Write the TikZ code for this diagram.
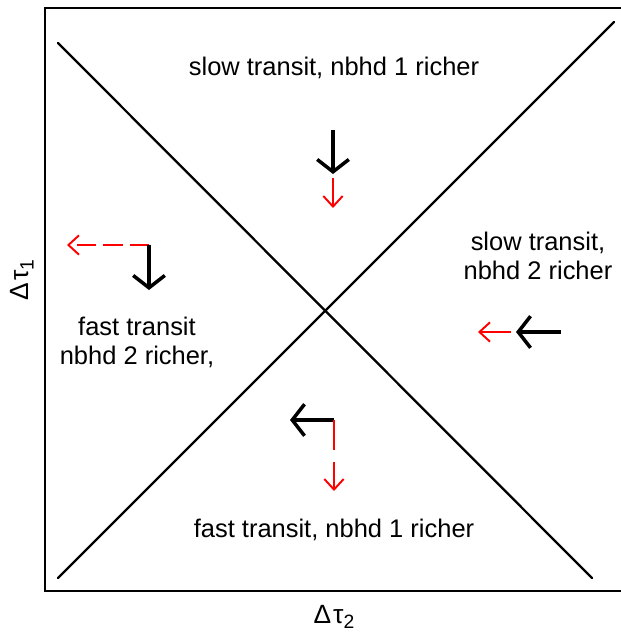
\documentclass[tikz,border=0pt]{standalone}
\usepackage{fontspec}
\setmainfont{Liberation Sans}
\usetikzlibrary{arrows.meta}

\begin{document}
\begin{tikzpicture}[x=0.02cm,y=-0.02cm]
\tikzset{
  regiontext/.style={align=center,font=\fontsize{14.5}{16.5}\selectfont,inner sep=0pt},
  axistext/.style={font=\fontsize{15}{17}\selectfont,inner sep=0pt},
  boundary/.style={line width=1.3pt,line cap=round},
  blackarrow/.style={-{Straight Barb[length=7pt,width=18pt,line width=2pt]},line width=2pt},
  redarrow/.style={-{Straight Barb[length=6pt,width=11pt,line width=1.1pt]},line width=1.1pt,red},
  redline/.style={line width=1.1pt,red}
}
\useasboundingbox (0,0) rectangle (621,635);
\fill[white] (0,0) rectangle (621,635);
% frame
\draw[line width=1.4pt] (45,8) rectangle (640,591);
% the two boundary lines
\coordinate (d_start) at (58,43);
\coordinate (d_end) at (592,578);
\coordinate (a_start) at (58,578);
\coordinate (a_end) at (614,22);
\draw[boundary] (d_start) -- (d_end);
\draw[boundary] (a_start) -- (a_end);
% region labels
\node[regiontext] (t_top) at (334,68) {slow transit, nbhd 1 richer};
\node[regiontext] (t_right) at (538,256) {slow transit,\\nbhd 2 richer};
\node[regiontext] (t_left) at (137,342) {fast transit\\nbhd 2 richer,};
\node[regiontext] (t_bottom) at (334,530) {fast transit, nbhd 1 richer};
% axis labels
\node[axistext,rotate=90] (y_lab) at (22,280) {Δ\kern1pt τ\raisebox{-0.35ex}{\fontsize{11}{13}\selectfont 1}};
\node[axistext] (x_lab) at (334,617) {Δ\kern1pt τ\raisebox{-0.35ex}{\fontsize{11}{13}\selectfont 2}};
% top region
\coordinate (top_b0) at (333,130);
\coordinate (top_b1) at (333,174);
\coordinate (top_r0) at (333,178);
\coordinate (top_r1) at (333,208);
\draw[blackarrow] (top_b0) -- (top_b1);
\draw[redarrow] (top_r0) -- (top_r1);
% left region
\coordinate (left_c) at (149,245);
\coordinate (left_r1) at (67,245);
\coordinate (left_b1) at (149,290);
\draw[redarrow,dash pattern=on 11pt off 4pt] (left_c) -- (left_r1);
\draw[blackarrow] (left_c) -- (left_b1);
% right region
\coordinate (right_b0) at (561,332);
\coordinate (right_b1) at (516,332);
\coordinate (right_r0) at (511,332);
\coordinate (right_r1) at (478,332);
\draw[blackarrow] (right_b0) -- (right_b1);
\draw[redarrow] (right_r0) -- (right_r1);
% bottom region
\coordinate (bot_c) at (334,420);
\coordinate (bot_b1) at (290,420);
\coordinate (bot_r0) at (334,462);
\coordinate (bot_r1) at (334,491);
\draw[blackarrow] (bot_c) -- (bot_b1);
\draw[redline] (bot_c) -- (334,450);
\draw[redarrow] (bot_r0) -- (bot_r1);
\end{tikzpicture}
\end{document}
